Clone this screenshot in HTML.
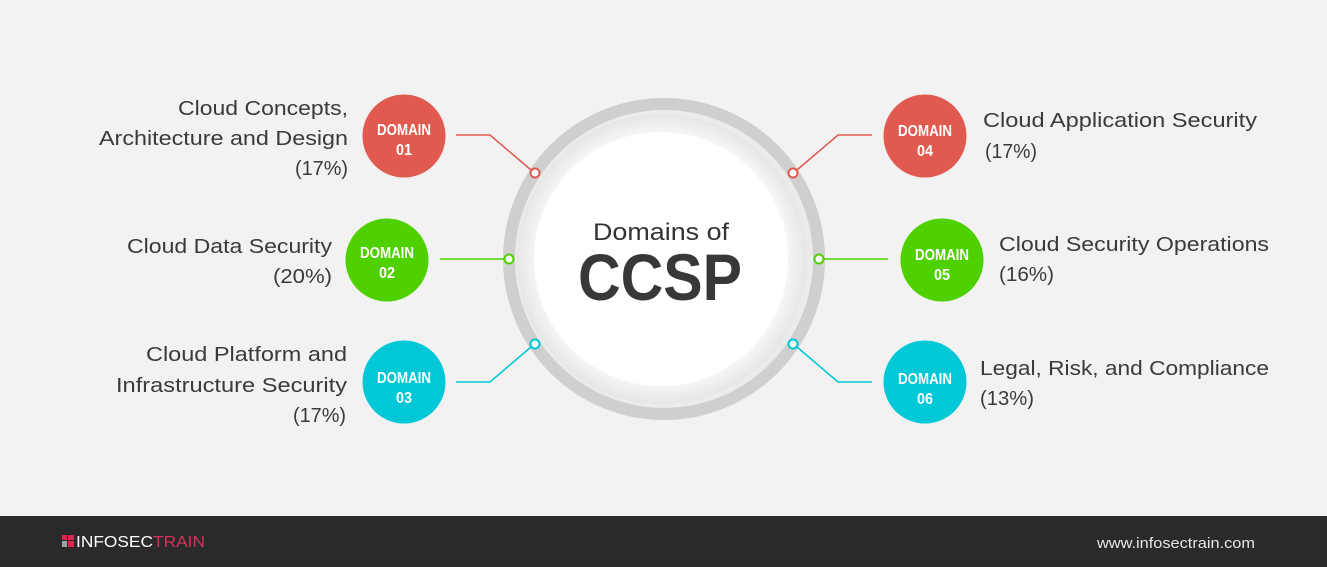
<!DOCTYPE html>
<html><head><meta charset="utf-8"><style>
html,body{margin:0;padding:0;background:#f2f2f2;}
svg{display:block;}
text{font-family:"Liberation Sans",sans-serif;}
</style></head><body>
<svg width="1327" height="567" viewBox="0 0 1327 567" xmlns="http://www.w3.org/2000/svg">
<defs>
<radialGradient id="ig" cx="0.5" cy="0.5" r="0.5">
<stop offset="0.8" stop-color="#ffffff"/>
<stop offset="1" stop-color="#e6e6e6"/>
</radialGradient>
</defs>
<rect width="1327" height="567" fill="#f2f2f2"/>
<!-- center -->
<circle cx="664" cy="259" r="155" fill="#ebebeb" stroke="#cfcfcf" stroke-width="12"/>
<circle cx="662" cy="259" r="145" fill="url(#ig)"/>
<circle cx="661" cy="259" r="127" fill="#ffffff"/>
<text x="661" y="240" font-size="24" fill="#333" text-anchor="middle" textLength="136" lengthAdjust="spacingAndGlyphs">Domains of</text>
<text x="660" y="300" font-size="66" font-weight="bold" fill="#383838" text-anchor="middle" textLength="164" lengthAdjust="spacingAndGlyphs">CCSP</text>
<!-- connectors -->
<g fill="none" stroke-width="1.5">
<polyline points="456,135 490,135 531,170" stroke="#e05a4f"/>
<polyline points="440,259 504,259" stroke="#4fd100"/>
<polyline points="456,382 490,382 531,347" stroke="#00c8d7"/>
<polyline points="872,135 838,135 797,170" stroke="#e05a4f"/>
<polyline points="888,259 824,259" stroke="#4fd100"/>
<polyline points="872,382 838,382 797,347" stroke="#00c8d7"/>
</g>
<g fill="#fff" stroke-width="2">
<circle cx="535" cy="173" r="4.5" stroke="#e05a4f"/>
<circle cx="509" cy="259" r="4.5" stroke="#4fd100"/>
<circle cx="535" cy="344" r="4.5" stroke="#00c8d7"/>
<circle cx="793" cy="173" r="4.5" stroke="#e05a4f"/>
<circle cx="819" cy="259" r="4.5" stroke="#4fd100"/>
<circle cx="793" cy="344" r="4.5" stroke="#00c8d7"/>
</g>
<!-- domain circles -->
<circle cx="404" cy="136" r="41.5" fill="#e05a4f"/>
<circle cx="387" cy="260" r="41.5" fill="#4fd100"/>
<circle cx="404" cy="382" r="41.5" fill="#00c8d7"/>
<circle cx="925" cy="136" r="41.5" fill="#e05a4f"/>
<circle cx="942" cy="260" r="41.5" fill="#4fd100"/>
<circle cx="925" cy="382" r="41.5" fill="#00c8d7"/>
<g fill="#fff" font-size="16" font-weight="bold" text-anchor="middle">
<text x="404" y="135" textLength="54" lengthAdjust="spacingAndGlyphs">DOMAIN</text><text x="404" y="155" textLength="16" lengthAdjust="spacingAndGlyphs">01</text>
<text x="387" y="258" textLength="54" lengthAdjust="spacingAndGlyphs">DOMAIN</text><text x="387" y="278" textLength="16" lengthAdjust="spacingAndGlyphs">02</text>
<text x="404" y="383" textLength="54" lengthAdjust="spacingAndGlyphs">DOMAIN</text><text x="404" y="403" textLength="16" lengthAdjust="spacingAndGlyphs">03</text>
<text x="925" y="136" textLength="54" lengthAdjust="spacingAndGlyphs">DOMAIN</text><text x="925" y="156" textLength="16" lengthAdjust="spacingAndGlyphs">04</text>
<text x="942" y="260" textLength="54" lengthAdjust="spacingAndGlyphs">DOMAIN</text><text x="942" y="280" textLength="16" lengthAdjust="spacingAndGlyphs">05</text>
<text x="925" y="384" textLength="54" lengthAdjust="spacingAndGlyphs">DOMAIN</text><text x="925" y="404" textLength="16" lengthAdjust="spacingAndGlyphs">06</text>
</g>
<!-- labels -->
<g fill="#3a3a3a" font-size="20" lengthAdjust="spacingAndGlyphs">
<text x="178" y="115" textLength="170" lengthAdjust="spacingAndGlyphs">Cloud Concepts,</text>
<text x="99" y="145" textLength="249" lengthAdjust="spacingAndGlyphs">Architecture and Design</text>
<text x="295" y="175" textLength="53" lengthAdjust="spacingAndGlyphs">(17%)</text>
<text x="127" y="253" textLength="205" lengthAdjust="spacingAndGlyphs">Cloud Data Security</text>
<text x="273" y="283" textLength="59" lengthAdjust="spacingAndGlyphs">(20%)</text>
<text x="146" y="361" textLength="201" lengthAdjust="spacingAndGlyphs">Cloud Platform and</text>
<text x="116" y="392" textLength="231" lengthAdjust="spacingAndGlyphs">Infrastructure Security</text>
<text x="293" y="422" textLength="53" lengthAdjust="spacingAndGlyphs">(17%)</text>
<text x="983" y="127" textLength="274" lengthAdjust="spacingAndGlyphs">Cloud Application Security</text>
<text x="985" y="158" textLength="52" lengthAdjust="spacingAndGlyphs">(17%)</text>
<text x="999" y="251" textLength="270" lengthAdjust="spacingAndGlyphs">Cloud Security Operations</text>
<text x="999" y="281" textLength="55" lengthAdjust="spacingAndGlyphs">(16%)</text>
<text x="980" y="375" textLength="289" lengthAdjust="spacingAndGlyphs">Legal, Risk, and Compliance</text>
<text x="980" y="405" textLength="54" lengthAdjust="spacingAndGlyphs">(13%)</text>
</g>
<!-- footer -->
<rect x="0" y="516" width="1327" height="51" fill="#2b2a2b"/>
<g>
<rect x="62" y="535" width="5" height="5" fill="#e0244f"/>
<rect x="68" y="535" width="6" height="5" fill="#e0244f"/>
<rect x="62" y="541" width="5" height="6" fill="#9aa6a6"/>
<rect x="68" y="541" width="6" height="6" fill="#e0244f"/>
</g>
<text x="76" y="547" font-size="16" fill="#ffffff" textLength="77" lengthAdjust="spacingAndGlyphs">INFOSEC</text>
<text x="153" y="547" font-size="16" fill="#d2345a" textLength="52" lengthAdjust="spacingAndGlyphs">TRAIN</text>
<text x="1097" y="548" font-size="15" fill="#e6e6e6" textLength="158" lengthAdjust="spacingAndGlyphs">www.infosectrain.com</text>
</svg>
</body></html>
